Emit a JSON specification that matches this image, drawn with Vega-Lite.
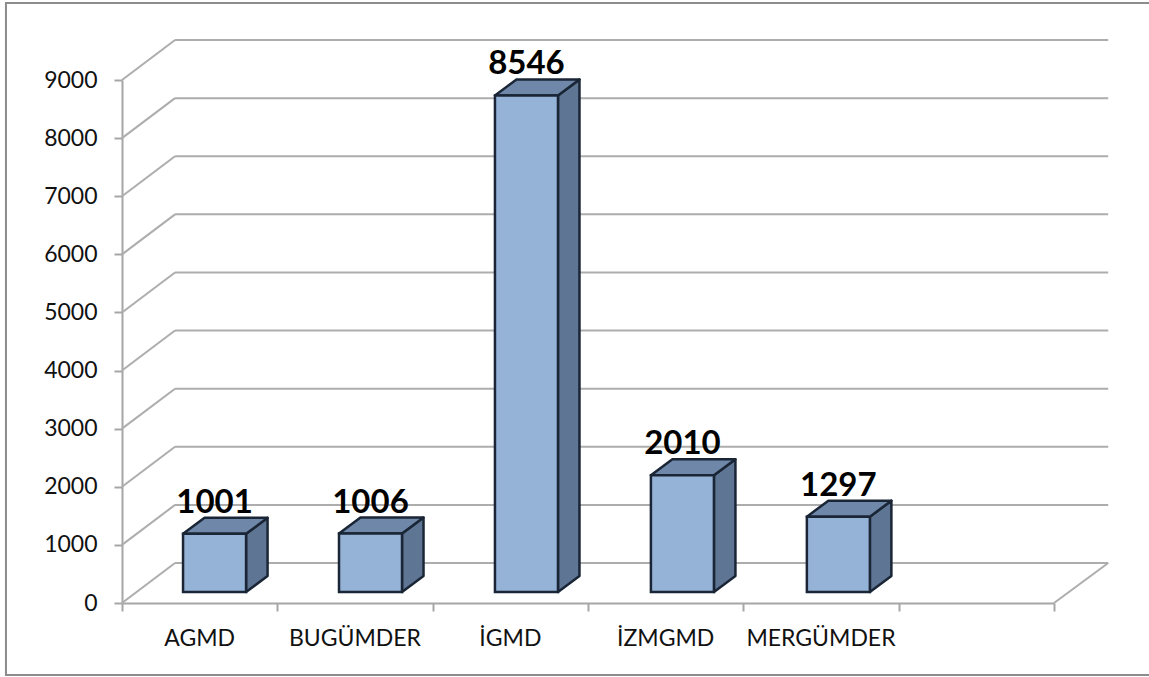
{
"$schema":"https://vega.github.io/schema/vega-lite/v6.json",
"width":932,"height":523,
"autosize":{"type":"none"},
"padding":{"left":122,"top":80,"right":95,"bottom":74},
"background":"white",
"config":{"view":{"stroke":null},
 "axisX":{"labels":false,"grid":false,"tickSize":8,"tickColor":"#a6a6a6","tickWidth":2,"domainColor":"#a6a6a6","domainWidth":2},
 "axisY":{"grid":false,"tickSize":8,"tickColor":"#a6a6a6","tickWidth":2,"domainColor":"#a6a6a6","domainWidth":2,"labelFont":"Lato","labelFontSize":23,"labelColor":"#111111","labelPadding":17,"format":"d"}},
"datasets":{
"bars":[{"name":"AGMD","value":1001},{"name":"BUGÜMDER","value":1006},{"name":"İGMD","value":8546},{"name":"İZMGMD","value":2010},{"name":"MERGÜMDER","value":1297}],
"levels":[{"level":0},{"level":1000},{"level":2000},{"level":3000},{"level":4000},{"level":5000},{"level":6000},{"level":7000},{"level":8000},{"level":9000}]
},
"layer":[
{"data":{"values":[{"frame":"border"}]},
 "mark":{"type":"rect","fill":"transparent","stroke":"#8c8c8c","strokeWidth":2},
 "encoding":{
  "x":{"datum":-0.747,"type":"quantitative","title":null,"scale":{"domain":[0,6],"nice":false,"zero":false},
   "axis":{"values":[0,1,2,3,4,5,6],"title":null}},
  "x2":{"datum":7.9},
  "y":{"datum":10325,"type":"quantitative","title":null,"scale":{"domain":[0,9000],"nice":false,"zero":false},
   "axis":{"values":[0,1000,2000,3000,4000,5000,6000,7000,8000,9000],"title":null}},
  "y2":{"datum":-1239}
 }},
{"data":{"name":"levels"},
 "transform":[{"calculate":"datum.level+688","as":"back"},{"calculate":"0","as":"xa"},{"calculate":"0.3413","as":"xb"},{"calculate":"6.349","as":"xc"}],
 "layer":[
  {"mark":{"type":"rule","stroke":"#adadad","strokeWidth":2},
   "encoding":{"x":{"field":"xa","type":"quantitative","title":null},"x2":{"field":"xb"},"y":{"field":"level","type":"quantitative","title":null},"y2":{"field":"back"}}},
  {"mark":{"type":"rule","stroke":"#adadad","strokeWidth":2},
   "encoding":{"x":{"field":"xb","type":"quantitative","title":null},"x2":{"field":"xc"},"y":{"field":"back","type":"quantitative","title":null}}},
  {"transform":[{"filter":"datum.level===0"},{"calculate":"6","as":"xd"}],
   "mark":{"type":"rule","stroke":"#adadad","strokeWidth":2},
   "encoding":{"x":{"field":"xd","type":"quantitative","title":null},"x2":{"field":"xc"},"y":{"field":"level","type":"quantitative","title":null},"y2":{"field":"back"}}}
 ]},
{"data":{"name":"bars"},
 "transform":[
  {"window":[{"op":"row_number","as":"rank"}]},
  {"calculate":"(datum.rank-1)*1.004+0.393","as":"x0"},
  {"calculate":"datum.x0+0.4057","as":"x1"},
  {"calculate":"datum.x0+0.2028","as":"xmid"},
  {"calculate":"datum.rank-0.5","as":"xlabel"},
  {"calculate":"datum.value+189","as":"top"},
  {"calculate":"189","as":"base"}
 ],
 "layer":[
  {"transform":[{"calculate":"[0,1]","as":"k"},{"flatten":["k"]},
    {"calculate":"datum.x1+datum.k*0.1384","as":"sx"},{"calculate":"datum.top+datum.k*275","as":"sy"},{"calculate":"datum.base+datum.k*275","as":"sy2"}],
   "mark":{"type":"area","fill":"#5f7594","stroke":"#1a2636","strokeWidth":2.5,"strokeJoin":"round"},
   "encoding":{"detail":{"field":"name"},"x":{"field":"sx","type":"quantitative","title":null},"y":{"field":"sy","type":"quantitative","title":null},"y2":{"field":"sy2"}}},
  {"transform":[{"calculate":"[0,1]","as":"k"},{"flatten":["k"]},
    {"calculate":"datum.x0+datum.k*0.1384","as":"tx"},{"calculate":"datum.x1+datum.k*0.1384","as":"tx2"},{"calculate":"datum.top+datum.k*275","as":"ty"}],
   "mark":{"type":"area","orient":"horizontal","fill":"#6f87a8","stroke":"#1a2636","strokeWidth":2.5,"strokeJoin":"round"},
   "encoding":{"detail":{"field":"name"},"x":{"field":"tx","type":"quantitative","title":null},"x2":{"field":"tx2"},"y":{"field":"ty","type":"quantitative","title":null}}},
  {"mark":{"type":"rect","fill":"#95b3d7","stroke":"#1a2636","strokeWidth":2.5},
   "encoding":{"x":{"field":"x0","type":"quantitative","title":null},"x2":{"field":"x1"},"y":{"field":"top","type":"quantitative","title":null},"y2":{"field":"base"}}},
  {"mark":{"type":"text","font":"Lato","fontWeight":"bold","fontSize":33,"color":"#000000","align":"center","baseline":"alphabetic","dy":-21},
   "encoding":{"x":{"field":"xmid","type":"quantitative","title":null},"y":{"field":"top","type":"quantitative","title":null},"text":{"field":"value","type":"quantitative","format":"d"}}},
  {"transform":[{"calculate":"0","as":"floor"}],
   "mark":{"type":"text","font":"Lato","fontSize":23,"color":"#111111","align":"center","baseline":"alphabetic","dy":43},
   "encoding":{"x":{"field":"xlabel","type":"quantitative","title":null},"y":{"field":"floor","type":"quantitative","title":null},"text":{"field":"name"}}}
 ]}
]
}
